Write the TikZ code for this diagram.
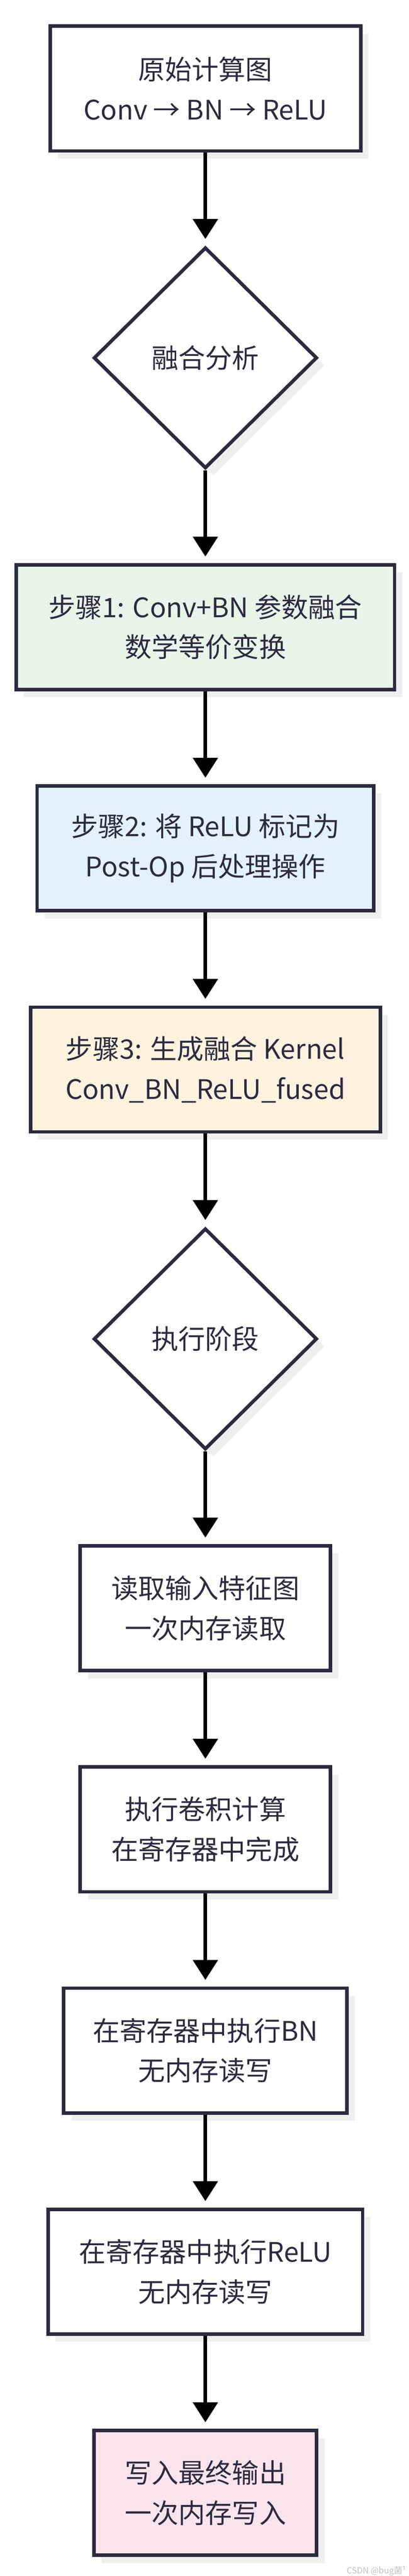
\documentclass[tikz,border=0pt]{standalone}
\usepackage{fontspec}
\setmainfont{Noto Sans CJK SC}
\usetikzlibrary{positioning,shapes.geometric,shadows,arrows.meta}
\definecolor{ink}{HTML}{2B2B40}
\definecolor{greenfill}{HTML}{E8F5E9}
\definecolor{bluefill}{HTML}{E3F2FD}
\definecolor{orangefill}{HTML}{FFF3E0}
\definecolor{pinkfill}{HTML}{FCE4EC}
\definecolor{shadowgray}{HTML}{EFEFEF}
\begin{document}
\begin{tikzpicture}[font=\fontsize{35pt}{52pt}\selectfont,
    node distance=121pt,
    flowbox/.style={draw=ink, line width=4.5pt, fill=white, text=ink, align=center,
      minimum height=162.5pt,
      drop shadow={shadow xshift=10pt, shadow yshift=-10pt, fill=shadowgray, opacity=1}},
    decision/.style={diamond, draw=ink, line width=4.5pt, fill=white, text=ink,
      minimum width=291pt, minimum height=288pt, inner sep=0pt,
      drop shadow={shadow xshift=10pt, shadow yshift=-10pt, fill=shadowgray, opacity=1}},
    flowarrow/.style={draw=black, line width=4.5pt,
      -{Triangle[width=32pt,length=26pt]}, shorten >=8.5pt}]
    \useasboundingbox (0,0) rectangle (532.5pt,-3354.5pt);
    %% Fusion analysis
    \node[flowbox, minimum width=404.5pt] (orig) at (267.5pt,-115.25pt)
        {原始计算图\\Conv → BN → ReLU};
    \node[decision, below=of orig] (analyse) {融合分析};
    \node[flowbox, fill=greenfill, minimum width=493pt, below=of analyse] (fuseparams)
        {步骤1: Conv+BN 参数融合\\数学等价变换};
    \node[flowbox, fill=bluefill, minimum width=438.5pt, below=of fuseparams] (postop)
        {步骤2: 将 ReLU 标记为\\Post-Op 后处理操作};
    \node[flowbox, fill=orangefill, minimum width=455.5pt, below=of postop] (kernel)
        {步骤3: 生成融合 Kernel\\Conv\_BN\_ReLU\_fused};
    %% Execution
    \node[decision, below=of kernel] (exec) {执行阶段};
    \node[flowbox, minimum width=326pt, below=of exec] (readin)
        {读取输入特征图\\一次内存读取};
    \node[flowbox, minimum width=326pt, below=of readin] (conv)
        {执行卷积计算\\在寄存器中完成};
    \node[flowbox, minimum width=369pt, below=of conv] (bn)
        {在寄存器中执行BN\\无内存读写};
    \node[flowbox, minimum width=409.5pt, below=of bn] (relu)
        {在寄存器中执行ReLU\\无内存读写};
    \node[flowbox, fill=pinkfill, minimum width=290pt, below=of relu] (writeout)
        {写入最终输出\\一次内存写入};
    %% Arrows
    \draw[flowarrow] (orig) -- (analyse);
    \draw[flowarrow] (analyse) -- (fuseparams);
    \draw[flowarrow] (fuseparams) -- (postop);
    \draw[flowarrow] (postop) -- (kernel);
    \draw[flowarrow] (kernel) -- (exec);
    \draw[flowarrow] (exec) -- (readin);
    \draw[flowarrow] (readin) -- (conv);
    \draw[flowarrow] (conv) -- (bn);
    \draw[flowarrow] (bn) -- (relu);
    \draw[flowarrow] (relu) -- (writeout);
    %% Watermark
    \node[anchor=east, font=\fontsize{11pt}{13pt}\selectfont, text=black!25] (mark)
        at (532pt,-3348pt) {CSDN @bug菌¹};
\end{tikzpicture}
\end{document}
